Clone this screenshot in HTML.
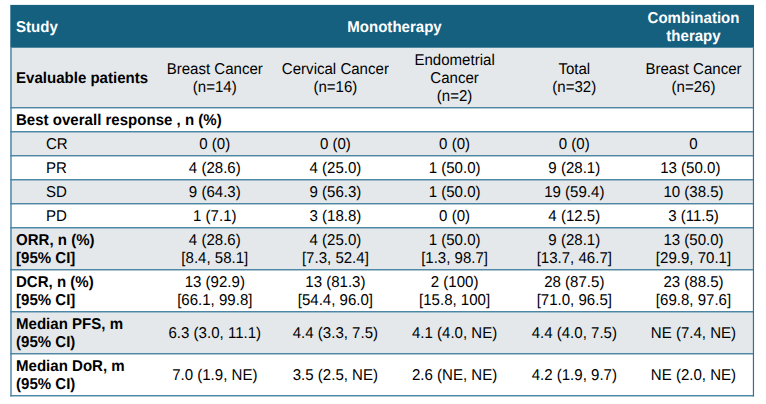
<!DOCTYPE html>
<html><head><meta charset="utf-8"><title>Table</title>
<style>
html,body{margin:0;padding:0;background:#fff;}
body{width:766px;height:404px;position:relative;overflow:hidden;font-family:"Liberation Sans",sans-serif;font-size:15.05px;color:#000;line-height:18px;}
.r{position:absolute;left:10.3px;width:743.7px;box-sizing:border-box;}
.hl{position:absolute;left:10.3px;width:743.7px;height:1.4px;background:#4683a1;}
.vl{position:absolute;top:47.3px;width:1.3px;background:#4683a1;}
.c{position:absolute;width:140px;margin-left:-70px;text-align:center;white-space:nowrap;}
.l{position:absolute;left:16px;white-space:nowrap;font-weight:bold;}
.s{position:absolute;left:46px;white-space:nowrap;}
body{text-rendering:geometricPrecision;}
.w{color:#fff;font-weight:bold;}
.c,.l,.s{transform:scaleY(1.04);transform-origin:50% 13.9px;}
</style></head><body>

<svg width="766" height="404" viewBox="0 0 766 404" style="position:absolute;left:0;top:0"><rect x="10.3" y="40" width="743.7" height="67" fill="#e4e8eb"/><rect x="10.3" y="4.9" width="743.7" height="42.8" fill="#15607f"/><rect x="10.3" y="107" width="743.7" height="24" fill="#fff"/><rect x="10.3" y="131" width="743.7" height="24" fill="#e4e8eb"/><rect x="10.3" y="155" width="743.7" height="24" fill="#fff"/><rect x="10.3" y="179" width="743.7" height="24" fill="#e4e8eb"/><rect x="10.3" y="203" width="743.7" height="24" fill="#fff"/><rect x="10.3" y="227" width="743.7" height="42" fill="#e4e8eb"/><rect x="10.3" y="269" width="743.7" height="42" fill="#fff"/><rect x="10.3" y="311" width="743.7" height="42" fill="#e4e8eb"/><rect x="10.3" y="353" width="743.7" height="42.5" fill="#fff"/><rect x="10.3" y="107.05" width="743.7" height="1.4" fill="#4683a1"/><rect x="10.3" y="131.05" width="743.7" height="1.4" fill="#4683a1"/><rect x="10.3" y="155.05" width="743.7" height="1.4" fill="#4683a1"/><rect x="10.3" y="179.05" width="743.7" height="1.4" fill="#4683a1"/><rect x="10.3" y="203.05" width="743.7" height="1.4" fill="#4683a1"/><rect x="10.3" y="227.05" width="743.7" height="1.4" fill="#4683a1"/><rect x="10.3" y="269.05" width="743.7" height="1.4" fill="#4683a1"/><rect x="10.3" y="311.05" width="743.7" height="1.4" fill="#4683a1"/><rect x="10.3" y="353.05" width="743.7" height="1.4" fill="#4683a1"/><rect x="10.3" y="395.05" width="743.7" height="1.4" fill="#4683a1"/><rect x="10.3" y="47.6" width="1.4" height="348.85" fill="#4683a1"/><rect x="752.85" y="47.6" width="1.2" height="348.85" fill="#2e7292"/></svg>
<div class="l w" style="top:19.0px">Study</div>
<div class="c w" style="left:394.5px;top:19.0px">Monotherapy</div>
<div class="c w" style="left:693.5px;top:10.0px">Combination</div>
<div class="c w" style="left:693.5px;top:28.0px">therapy</div>
<div class="l " style="top:70.0px">Evaluable patients</div>
<div class="c " style="left:214.8px;top:61.0px">Breast Cancer</div>
<div class="c " style="left:214.8px;top:79.0px">(n=14)</div>
<div class="c " style="left:335.4px;top:61.0px">Cervical Cancer</div>
<div class="c " style="left:335.4px;top:79.0px">(n=16)</div>
<div class="c " style="left:454.6px;top:52.0px">Endometrial</div>
<div class="c " style="left:454.6px;top:70.0px">Cancer</div>
<div class="c " style="left:454.6px;top:88.0px">(n=2)</div>
<div class="c " style="left:574.3px;top:61.0px">Total</div>
<div class="c " style="left:574.3px;top:79.0px">(n=32)</div>
<div class="c " style="left:693.5px;top:61.0px">Breast Cancer</div>
<div class="c " style="left:693.5px;top:79.0px">(n=26)</div>
<div class="l " style="top:112.0px">Best overall response , n (%)</div>
<div class="s " style="top:136.0px">CR</div>
<div class="c " style="left:214.8px;top:136.0px">0 (0)</div>
<div class="c " style="left:335.4px;top:136.0px">0 (0)</div>
<div class="c " style="left:454.6px;top:136.0px">0 (0)</div>
<div class="c " style="left:574.3px;top:136.0px">0 (0)</div>
<div class="c " style="left:693.5px;top:136.0px">0</div>
<div class="s " style="top:160.0px">PR</div>
<div class="c " style="left:214.8px;top:160.0px">4 (28.6)</div>
<div class="c " style="left:335.4px;top:160.0px">4 (25.0)</div>
<div class="c " style="left:454.6px;top:160.0px">1 (50.0)</div>
<div class="c " style="left:574.3px;top:160.0px">9 (28.1)</div>
<div class="c " style="left:690.3px;top:160.0px">13 (50.0)</div>
<div class="s " style="top:184.0px">SD</div>
<div class="c " style="left:214.8px;top:184.0px">9 (64.3)</div>
<div class="c " style="left:335.4px;top:184.0px">9 (56.3)</div>
<div class="c " style="left:454.6px;top:184.0px">1 (50.0)</div>
<div class="c " style="left:574.3px;top:184.0px">19 (59.4)</div>
<div class="c " style="left:693.5px;top:184.0px">10 (38.5)</div>
<div class="s " style="top:208.0px">PD</div>
<div class="c " style="left:214.8px;top:208.0px">1 (7.1)</div>
<div class="c " style="left:335.4px;top:208.0px">3 (18.8)</div>
<div class="c " style="left:454.6px;top:208.0px">0 (0)</div>
<div class="c " style="left:574.3px;top:208.0px">4 (12.5)</div>
<div class="c " style="left:693.5px;top:208.0px">3 (11.5)</div>
<div class="l " style="top:232.0px">ORR, n (%)</div>
<div class="l " style="top:250.0px">[95% CI]</div>
<div class="c " style="left:214.8px;top:232.0px">4 (28.6)</div>
<div class="c " style="left:214.8px;top:250.0px">[8.4, 58.1]</div>
<div class="c " style="left:335.4px;top:232.0px">4 (25.0)</div>
<div class="c " style="left:335.4px;top:250.0px">[7.3, 52.4]</div>
<div class="c " style="left:454.6px;top:232.0px">1 (50.0)</div>
<div class="c " style="left:454.6px;top:250.0px">[1.3, 98.7]</div>
<div class="c " style="left:574.3px;top:232.0px">9 (28.1)</div>
<div class="c " style="left:574.3px;top:250.0px">[13.7, 46.7]</div>
<div class="c " style="left:693.5px;top:232.0px">13 (50.0)</div>
<div class="c " style="left:693.5px;top:250.0px">[29.9, 70.1]</div>
<div class="l " style="top:274.0px">DCR, n (%)</div>
<div class="l " style="top:292.0px">[95% CI]</div>
<div class="c " style="left:214.8px;top:274.0px">13 (92.9)</div>
<div class="c " style="left:214.8px;top:292.0px">[66.1, 99.8]</div>
<div class="c " style="left:335.4px;top:274.0px">13 (81.3)</div>
<div class="c " style="left:335.4px;top:292.0px">[54.4, 96.0]</div>
<div class="c " style="left:454.6px;top:274.0px">2 (100)</div>
<div class="c " style="left:454.6px;top:292.0px">[15.8, 100]</div>
<div class="c " style="left:574.3px;top:274.0px">28 (87.5)</div>
<div class="c " style="left:574.3px;top:292.0px">[71.0, 96.5]</div>
<div class="c " style="left:693.5px;top:274.0px">23 (88.5)</div>
<div class="c " style="left:693.5px;top:292.0px">[69.8, 97.6]</div>
<div class="l " style="top:316.0px">Median PFS, m</div>
<div class="l " style="top:334.0px">(95% CI)</div>
<div class="c " style="left:214.8px;top:325.0px">6.3 (3.0, 11.1)</div>
<div class="c " style="left:335.4px;top:325.0px">4.4 (3.3, 7.5)</div>
<div class="c " style="left:454.6px;top:325.0px">4.1 (4.0, NE)</div>
<div class="c " style="left:574.3px;top:325.0px">4.4 (4.0, 7.5)</div>
<div class="c " style="left:693.5px;top:325.0px">NE (7.4, NE)</div>
<div class="l " style="top:358.0px">Median DoR, m</div>
<div class="l " style="top:376.0px">(95% CI)</div>
<div class="c " style="left:214.8px;top:367.0px">7.0 (1.9, NE)</div>
<div class="c " style="left:335.4px;top:367.0px">3.5 (2.5, NE)</div>
<div class="c " style="left:454.6px;top:367.0px">2.6 (NE, NE)</div>
<div class="c " style="left:574.3px;top:367.0px">4.2 (1.9, 9.7)</div>
<div class="c " style="left:693.5px;top:367.0px">NE (2.0, NE)</div>
</body></html>
